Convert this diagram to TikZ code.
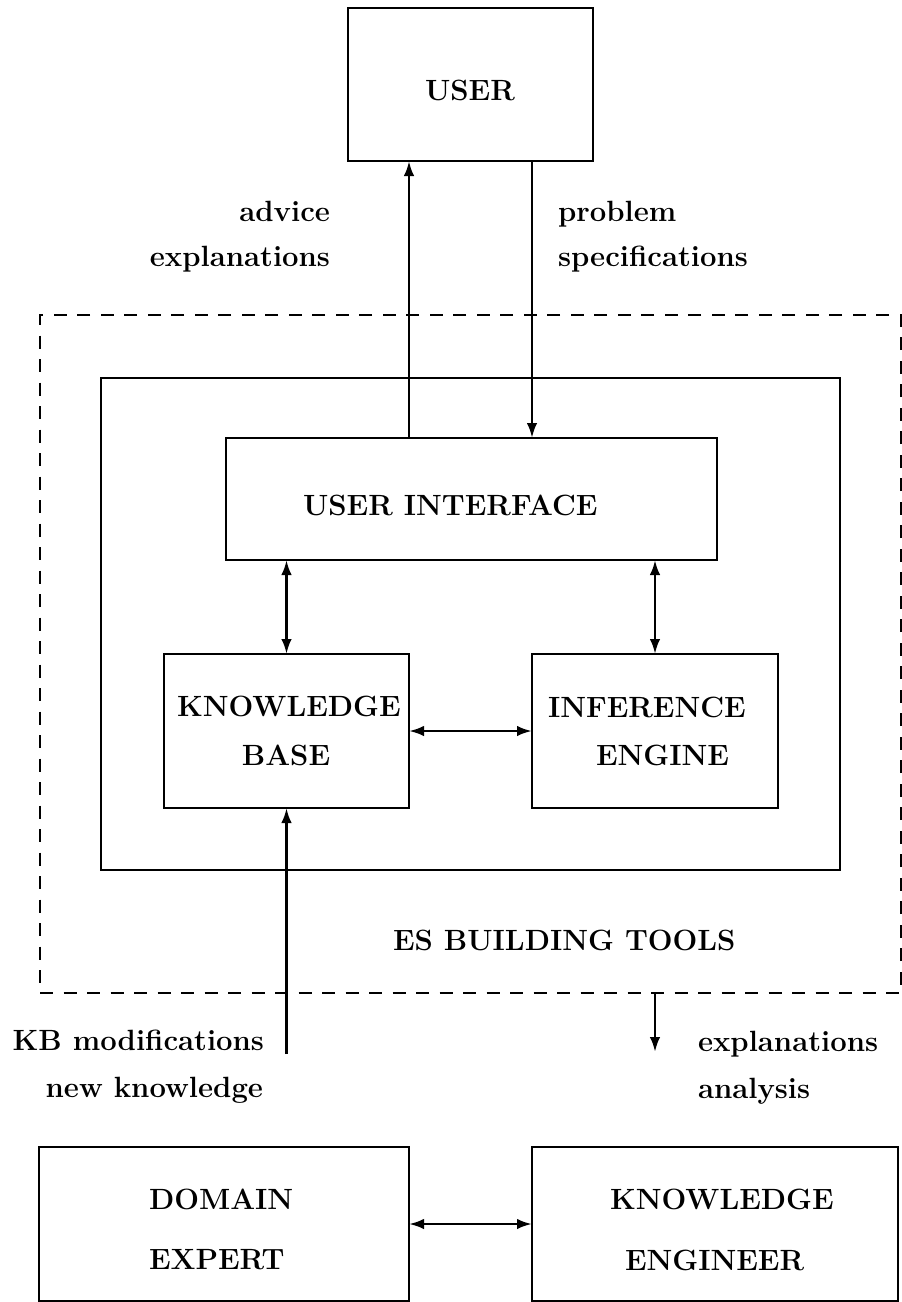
\documentclass[tikz,border=0pt]{standalone}
\usetikzlibrary{arrows.meta}
\tikzset{
  box/.style={draw, line width=2.8pt, inner sep=0pt, outer sep=0pt},
  dbox/.style={draw, line width=2.8pt, dash pattern=on 13pt off 10.5pt, inner sep=0pt, outer sep=0pt},
  lbl/.style={inner sep=0pt, outer sep=0pt, font=\fontsize{29.3}{35}\selectfont\bfseries},
  arr/.style={line width=2.6pt, -{Latex[length=15pt,width=10.5pt]}},
  darr/.style={line width=2.6pt, {Latex[length=15pt,width=10.5pt]}-{Latex[length=15pt,width=10.5pt]}},
}
\begin{document}
\begin{tikzpicture}[x=1pt,y=-1pt]
\useasboundingbox (0,0) rectangle (902,1302);
% boxes
\node[dbox, minimum width=861pt, minimum height=678pt] (tools) at (470.5,654) {};
\node[box, minimum width=739pt, minimum height=492pt] (inner) at (470.5,624) {};
\node[box, minimum width=245pt, minimum height=153pt] (user) at (470.5,84.5) {};
\node[box, minimum width=491pt, minimum height=122pt] (ui) at (471.5,499) {};
\node[box, minimum width=245pt, minimum height=154pt] (kb) at (286.5,731) {};
\node[box, minimum width=246pt, minimum height=154pt] (ie) at (655,731) {};
\node[box, minimum width=370pt, minimum height=154pt] (de) at (224,1224) {};
\node[box, minimum width=366pt, minimum height=154pt] (ke) at (715,1224) {};
% texts
\node[lbl] (tuser) at (470,90) {USER};
\node[lbl, anchor=mid east] (tadv) at (330,219) {advice};
\node[lbl, anchor=mid east] (texp1) at (330,264) {explanations};
\node[lbl, anchor=mid west] (tprob) at (558,219) {problem};
\node[lbl, anchor=mid west] (tspec) at (558,264) {specifications};
\node[lbl, anchor=west] (tui) at (303,505) {USER INTERFACE};
\node[lbl, anchor=west] (tkb1) at (177,706) {KNOWLEDGE};
\node[lbl] (tkb2) at (286,755) {BASE};
\node[lbl, anchor=west] (tie1) at (548,707) {INFERENCE};
\node[lbl, anchor=west] (tie2) at (596,755) {ENGINE};
\node[lbl, anchor=west] (tes) at (393,940) {ES BUILDING TOOLS};
\node[lbl, anchor=mid east] (tkbm) at (264,1048) {KB modifications};
\node[lbl, anchor=mid east] (tnew) at (263,1095) {new knowledge};
\node[lbl, anchor=mid west] (texp2) at (698,1049) {explanations};
\node[lbl, anchor=mid west] (tana) at (698,1096) {analysis};
\node[lbl, anchor=west] (tde1) at (149,1199) {DOMAIN};
\node[lbl, anchor=west] (tde2) at (149,1260) {EXPERT};
\node[lbl, anchor=west] (tke1) at (610,1199) {KNOWLEDGE};
\node[lbl, anchor=west] (tke2) at (625,1260) {ENGINEER};
% connectors
\coordinate (kbsrc) at (286.5,1054);
\coordinate (exend) at (655,1052);
\draw[arr] (ui.north -| kb.east) -- (user.south -| kb.east);
\draw[arr] (user.south -| ie.west) -- (ui.north -| ie.west);
\draw[darr] (ui.south -| kb.north) -- (kb.north);
\draw[darr] (ui.south -| ie.north) -- (ie.north);
\draw[darr] (kb.east) -- (ie.west);
\draw[arr] (kbsrc) -- (kb.south);
\draw[arr] (tools.south -| ie.south) -- (exend);
\draw[darr] (de.east) -- (ke.west);
\end{tikzpicture}
\end{document}
